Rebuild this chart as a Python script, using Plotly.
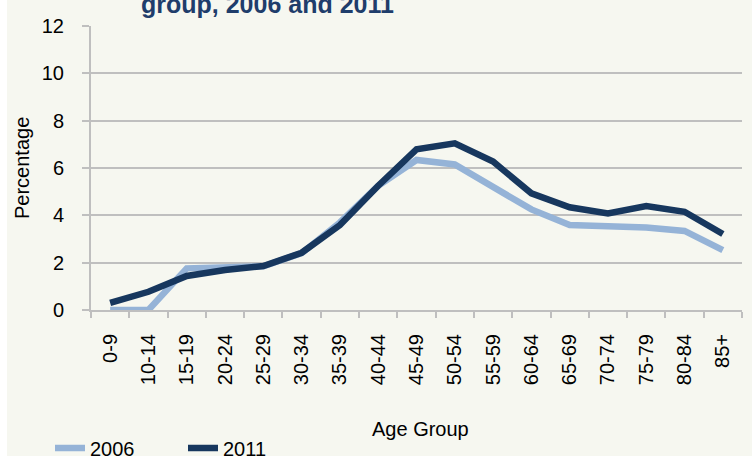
import plotly.graph_objects as go

# Age groups and population share (%) for each census year
age_groups = ["0-9", "10-14", "15-19", "20-24", "25-29", "30-34", "35-39", "40-44",
              "45-49", "50-54", "55-59", "60-64", "65-69", "70-74", "75-79", "80-84", "85+"]
pct_2006 = [0.0, 0.0, 1.76, 1.8, 1.85, 2.4, 3.7, 5.25, 6.34, 6.15, 5.2, 4.25, 3.59, 3.52, 3.49, 3.34, 2.53]
pct_2011 = [0.3, 0.77, 1.44, 1.69, 1.86, 2.42, 3.59, 5.25, 6.79, 7.04, 6.27, 4.93, 4.34, 4.08, 4.39, 4.15, 3.21]
y_ticks = [0, 2, 4, 6, 8, 10, 12]

BG = "#F6F7F0"
GRID = "#BFBFBF"
FONT = "Liberation Sans, Arial, sans-serif"

W, H = 752, 456
ML, MR, MT, MB = 91, 10, 26, 146
PW, PH = W - ML - MR, H - MT - MB

fig = go.Figure()
fig.add_trace(go.Scatter(x=age_groups, y=pct_2006, name="2006", mode="lines",
                         line=dict(color="#95B3D7", width=6.5)))
fig.add_trace(go.Scatter(x=age_groups, y=pct_2011, name="2011", mode="lines",
                         line=dict(color="#17375E", width=6.5)))

fig.update_layout(
    width=W, height=H,
    margin=dict(l=ML, r=MR, t=MT, b=MB, autoexpand=False),
    paper_bgcolor=BG, plot_bgcolor=BG,
    font=dict(family=FONT, size=20, color="#000000"),
    showlegend=True,
    legend=dict(orientation="h", x=(50 - ML) / PW, xanchor="left",
                y=-(448 - (MT + PH)) / PH, yanchor="middle",
                bgcolor="rgba(0,0,0,0)", font=dict(size=20),
                entrywidth=88, entrywidthmode="pixels", tracegroupgap=0),
    xaxis=dict(type="category", range=[-0.5, len(age_groups) - 0.5],
               tickangle=-90, showline=True, linecolor=GRID, linewidth=2,
               ticks="outside", tickson="boundaries", ticklen=6, tickcolor=GRID, tickwidth=2,
               ticklabelstandoff=14, showgrid=False, zeroline=False,
               tickfont=dict(size=20)),
    yaxis=dict(range=[0, 12], tickvals=y_ticks, showline=True, linecolor=GRID, linewidth=2,
               ticks="outside", ticklen=7, tickcolor=GRID, tickwidth=2,
               showgrid=True, gridcolor=GRID, gridwidth=2, zeroline=False,
               ticklabelstandoff=14, tickfont=dict(size=20)),
    shapes=[dict(type="rect", xref="paper", yref="paper", layer="below",
                 x0=-0.3, x1=(7 - ML) / PW, y0=-1, y1=2,
                 fillcolor="#FFFFFF", line=dict(width=0))],
    annotations=[
        dict(text="<b>group, 2006 and 2011</b>", xref="paper", yref="paper",
             x=(267 - ML) / PW, y=1 + (MT - 4) / PH, xanchor="center", yanchor="middle",
             showarrow=False, font=dict(size=25, color="#1F3D6B")),
        dict(text="Percentage", xref="paper", yref="paper", textangle=-90,
             x=(22 - ML) / PW, y=0.5, xanchor="center", yanchor="middle",
             showarrow=False, font=dict(size=20)),
        dict(text="Age Group", xref="paper", yref="paper",
             x=(420 - ML) / PW, y=-(429 - (MT + PH)) / PH, xanchor="center", yanchor="middle",
             showarrow=False, font=dict(size=20)),
    ],
)

fig.write_html("out.html")
